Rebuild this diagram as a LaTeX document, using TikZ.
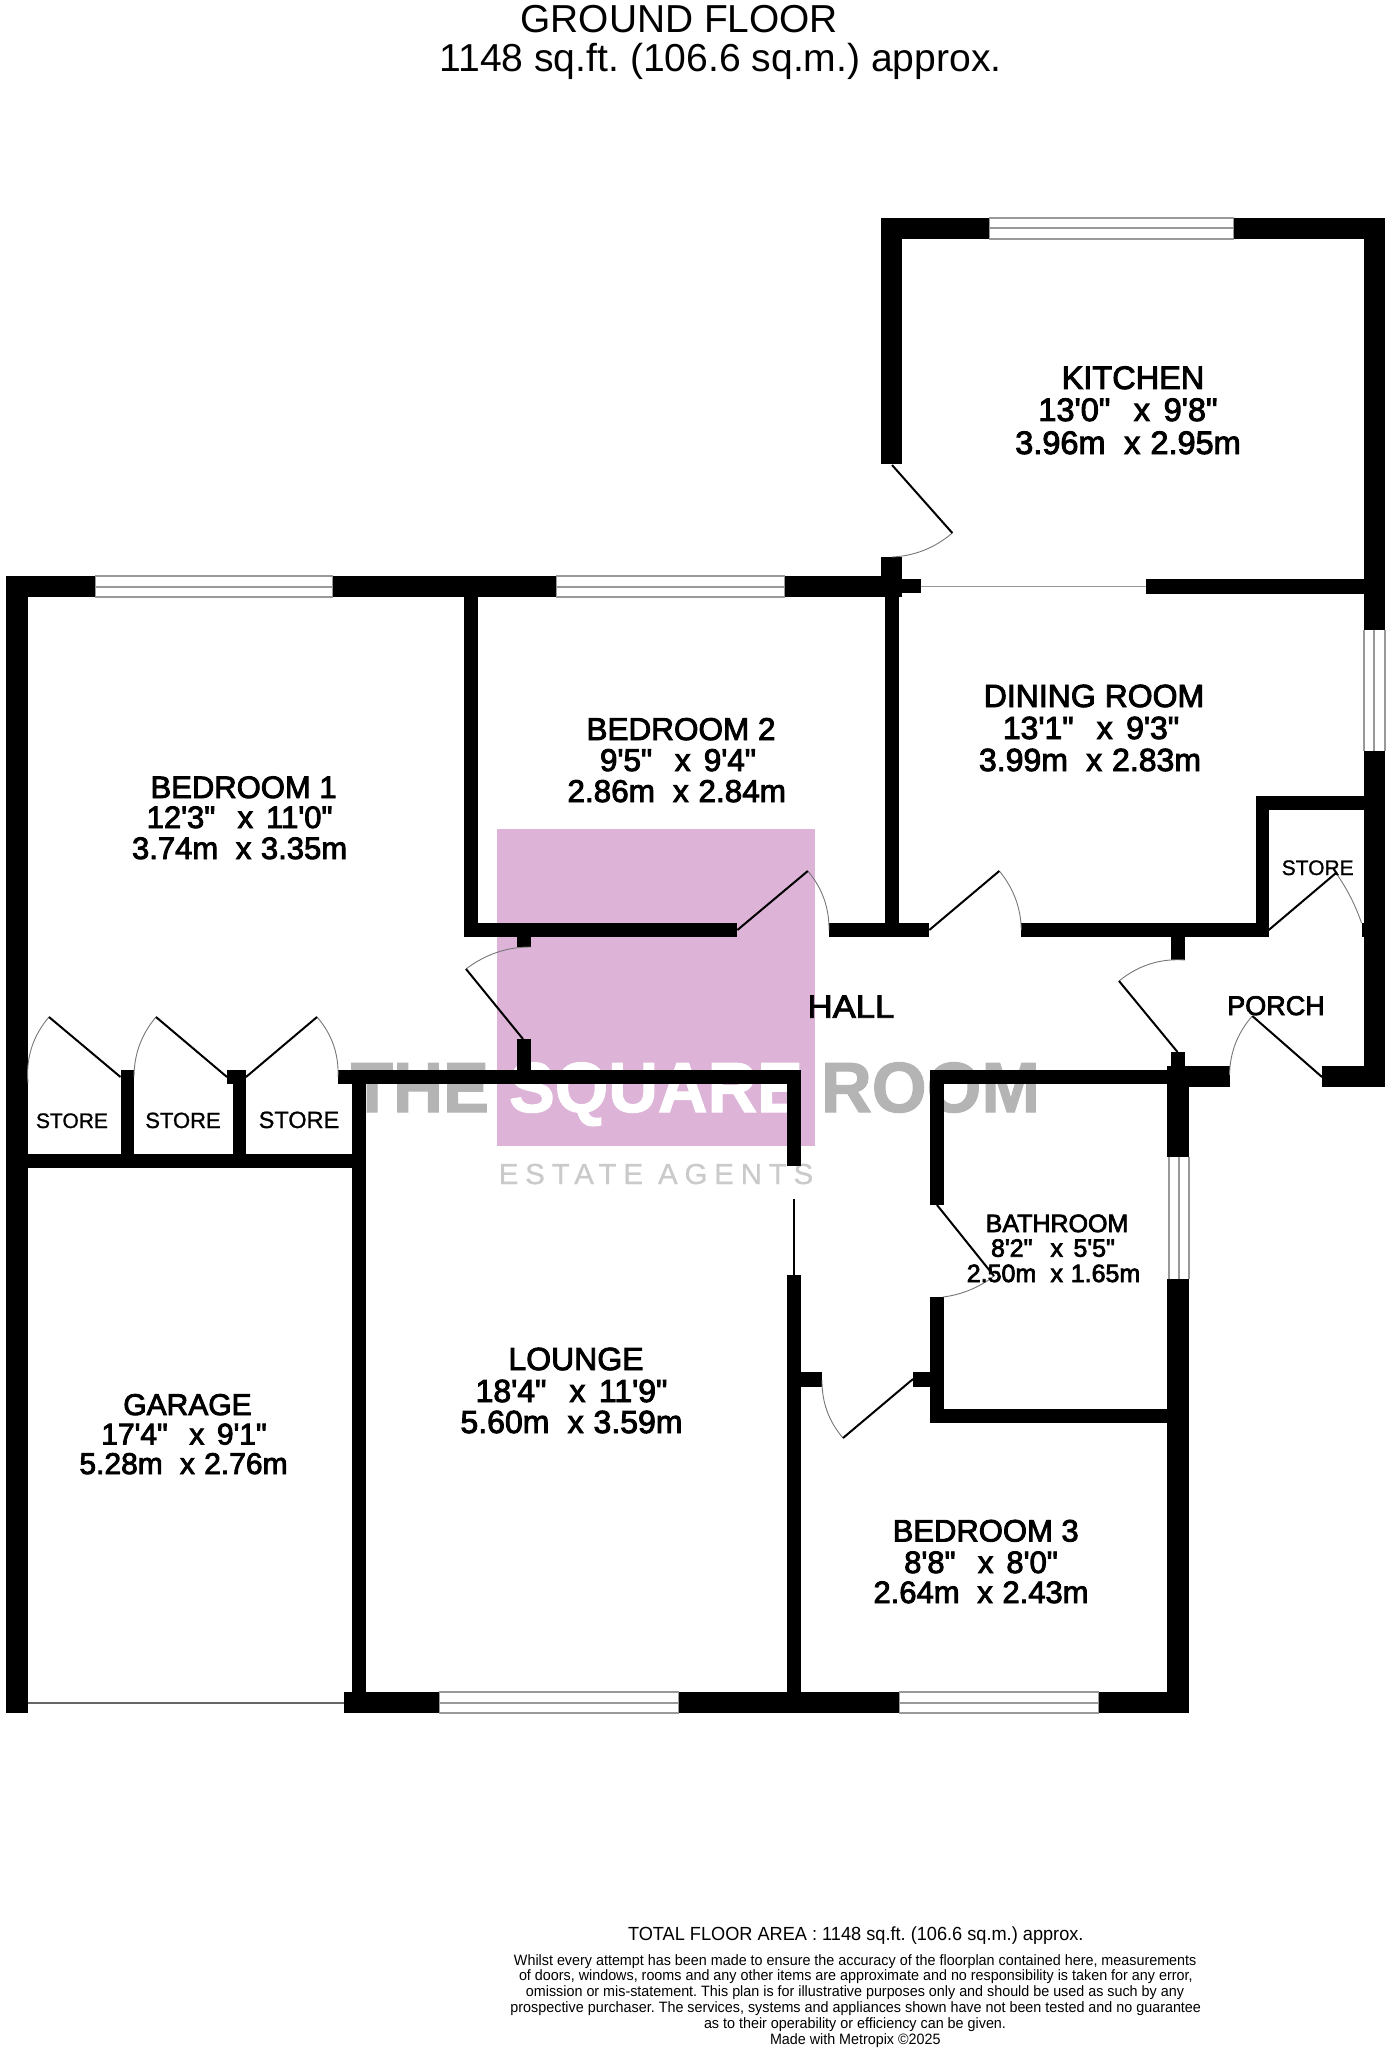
\documentclass[tikz,border=0pt]{standalone}
\usepackage{fontspec}
\usepackage{graphicx}
\newfontfamily\ar{Liberation Sans}
\newfontfamily\arf[FakeBold=2.8]{Liberation Sans}
\newfontfamily\arm[FakeBold=1]{Liberation Sans}
\newfontfamily\arbd[FakeBold=1.6]{Liberation Sans Bold}
\newfontfamily\arls[LetterSpace=23,FakeBold=0.6]{Liberation Sans}
\newdimen\pxu \pxu=0.5pt
\newcommand\xx{\hspace{0.72em}x\hspace{0.42em}}
\newcommand\xm{\hspace{0.57em}x\hspace{0.31em}}
\definecolor{pinkbox}{HTML}{DDB3D8}
\definecolor{logogray}{HTML}{B4B4B4}
\definecolor{logolight}{HTML}{CACACA}
\definecolor{glass}{HTML}{999999}
\definecolor{swing}{HTML}{777777}
\tikzset{
  tx/.style={inner sep=0pt,outer sep=0pt,anchor=base,text=black},
  leaf/.style={black,line width=1pt},
  swingarc/.style={swing,line width=0.45pt},
  glassline/.style={glass,line width=1pt},
}
% text helpers: name, centre x, baseline y, font px, text
\newcommand\lab[5]{\pgfmathsetmacro\fsz{#4/2}\node[tx] (#1) at (#2,#3) {\arf\fontsize{\fsz}{\fsz}\selectfont #5};}
\newcommand\thinlab[5]{\pgfmathsetmacro\fsz{#4/2}\node[tx] (#1) at (#2,#3) {\arm\fontsize{\fsz}{\fsz}\selectfont #5};}
% name, x1, x2, baseline, font px, text : text fitted to x1..x2
\newcommand\fitlab[6]{\pgfmathsetmacro\fsz{#5/2}\pgfmathsetmacro\cenx{(#2+#3)/2}\pgfmathsetmacro\fitw{#3-#2}\node[tx] (#1) at (\cenx,#4) {\resizebox{\fitw\pxu}{\height}{\ar\fontsize{\fsz}{\fsz}\selectfont #6}};}
\newcommand\fitb[6]{\pgfmathsetmacro\fsz{#5/2}\pgfmathsetmacro\cenx{(#2+#3)/2}\pgfmathsetmacro\fitw{#3-#2}\node[tx,text=#6] (#1) at (\cenx,#4) {\resizebox{\fitw\pxu}{\height}{\arbd\fontsize{\fsz}{\fsz}\selectfont\MakeUppercase{#1}}};}
\newcommand\wall[4]{\fill[black] (#1,#2) rectangle (#3,#4);}
% horizontal window x1 x2 y1 y2
\newcommand\hwin[4]{\pgfmathsetmacro\ymid{(#3+#4)/2}
  \draw[glassline] (#1,#3)--(#2,#3) (#1,\ymid)--(#2,\ymid) (#1,#4)--(#2,#4) (#1,#3)--(#1,#4) (#2,#3)--(#2,#4);}
\newcommand\vwin[4]{\pgfmathsetmacro\xmid{(#1+#2)/2}
  \draw[glassline] (#1,#3)--(#1,#4) (\xmid,#3)--(\xmid,#4) (#2,#3)--(#2,#4);}
% door: hinge, tip, arc end
\newcommand\door[6]{%
  \pgfmathsetmacro\mpx{(#3+#5)/2}\pgfmathsetmacro\mpy{(#4+#6)/2}%
  \pgfmathsetmacro\rsq{(#3-#1)*(#3-#1)+(#4-#2)*(#4-#2)}%
  \pgfmathsetmacro\dsq{(\mpx-#1)*(\mpx-#1)+(\mpy-#2)*(\mpy-#2)}%
  \pgfmathsetmacro\rat{\rsq/\dsq}%
  \pgfmathsetmacro\tanx{#1+(\mpx-#1)*\rat}\pgfmathsetmacro\tany{#2+(\mpy-#2)*\rat}%
  \pgfmathsetmacro\cax{#3+(\tanx-#3)*2/3}\pgfmathsetmacro\cay{#4+(\tany-#4)*2/3}%
  \pgfmathsetmacro\cbx{#5+(\tanx-#5)*2/3}\pgfmathsetmacro\cby{#6+(\tany-#6)*2/3}%
  \draw[swingarc] (#3,#4) .. controls (\cax,\cay) and (\cbx,\cby) .. (#5,#6);
  \draw[leaf] (#1,#2) -- (#3,#4);}
\begin{document}
\frenchspacing
\begin{tikzpicture}[x=0.5pt,y=-0.5pt]
\useasboundingbox (0,0) rectangle (1390,2048);
\fill[white] (0,0) rectangle (1390,2048);
% logo
\fill[pinkbox] (496.5,829) rectangle (814.5,1146);
\fitb{The}{351}{489}{1112}{71}{logogray}
\fitb{Square}{509}{803}{1112}{71}{white}
\fitb{Room}{821}{1040}{1112}{71}{logogray}
\pgfmathsetmacro\fsz{29/2}
\node[tx,text=logolight] (estate) at (656,1184) {\resizebox{314.5\pxu}{\height}{\arls\fontsize{\fsz}{\fsz}\selectfont ESTATE AGENTS}};
% windows
\hwin{989}{1234}{218}{239}
\hwin{95}{333}{576}{597}
\hwin{556}{785}{576}{597}
\hwin{438.6}{678.5}{1692}{1713}
\hwin{898.5}{1099.4}{1692}{1713}
\vwin{1363.5}{1384.5}{630}{751}
\vwin{1168.5}{1188.6}{1157}{1279}
% thin openings
\draw[glass,line width=0.8pt] (921,586.5) -- (1146,586.5);
\draw[black!60,line width=1.4pt] (28,1703) -- (344,1703);
\draw[black,line width=0.8pt] (794,1199) -- (794,1275);
% walls: kitchen
\wall{881}{218}{989}{239}
\wall{1234}{218}{1384.8}{239}
\wall{881}{218}{902.3}{464}
\wall{881}{557}{902.3}{597}
\wall{902}{579}{920.6}{593}
\wall{1146}{579}{1365}{594}
\wall{1363.7}{218}{1384.8}{630}
\wall{1363.7}{751}{1384.8}{1087}
% walls: top of bedrooms
\wall{6.3}{576}{95}{597}
\wall{333}{576}{556}{597}
\wall{785}{576}{881}{597}
\wall{6.3}{576}{28}{1713}
\wall{464}{597}{478}{937}
\wall{885}{597}{899}{937}
% hall top wall
\wall{464}{923}{737.4}{937}
\wall{829}{923}{929.3}{937}
\wall{1021.3}{923}{1268.7}{937}
\wall{1361.5}{923}{1364}{937}
\wall{1255.5}{796}{1268.7}{937}
\wall{1255.5}{796}{1364}{810}
% bedroom 1 door stubs
\wall{517}{937}{531}{947}
\wall{517}{1039}{531}{1071}
% lounge top
\wall{338}{1070}{801}{1084}
\wall{352}{1070}{365.5}{1713}
\wall{786.8}{1070}{801}{1166}
\wall{786.8}{1275}{801}{1713}
% stores
\wall{28}{1154}{352}{1168}
\wall{120.5}{1070}{134}{1168}
\wall{233}{1084}{246}{1168}
\wall{227}{1070}{246}{1084}
% porch / bathroom
\wall{1171}{937}{1185}{960}
\wall{1171}{1052}{1185}{1070}
\wall{929.8}{1070}{1170}{1084}
\wall{1167.4}{1066}{1229.5}{1087}
\wall{1322}{1066}{1384.8}{1087}
\wall{1167.4}{1084}{1188.6}{1157}
\wall{1167.4}{1279}{1189}{1713}
\wall{929.8}{1070}{943.5}{1205}
\wall{929.8}{1297}{944}{1423}
\wall{929.8}{1409}{1170}{1423}
\wall{913}{1372}{930}{1387}
\wall{801}{1372}{822}{1387}
% bottom wall
\wall{344}{1692}{438.6}{1713}
\wall{678.5}{1692}{898.5}{1713}
\wall{1099.4}{1692}{1189}{1713}
% doors
\door{892}{465}{952.3}{533}{892}{557}
\door{523}{1039}{466}{969}{531}{947}
\door{120.5}{1077}{49}{1017}{28}{1083}
\door{227}{1077}{156}{1017}{134}{1077}
\door{246}{1077}{317}{1017}{338}{1077}
\door{737.4}{930}{807.8}{871}{829}{930}
\door{929.3}{930}{999.3}{871}{1021.3}{930}
\door{1268.7}{930}{1336}{873}{1361.5}{923}
\door{1177.5}{1052}{1119}{981}{1185}{960}
\door{1322}{1077}{1252.3}{1016}{1229.5}{1075}
\door{937}{1205}{994}{1276}{943}{1297}
\door{913}{1379}{843}{1438}{822}{1380}
% title
\fitlab{title}{520.5}{838}{33}{39}{GROUND FLOOR}
\fitlab{area}{439.5}{1001.6}{72}{39}{1148 sq.ft. (106.6 sq.m.) approx.}
% rooms
\lab{kit1}{1133}{389}{32.5}{KITCHEN}
\lab{kit2}{1128}{421}{32.5}{13'0"\xx 9'8"}
\lab{kit3}{1128}{454}{32.5}{3.96m\xm 2.95m}
\lab{bedone1}{243.6}{798}{31}{BEDROOM 1}
\lab{bedone2}{239.6}{828}{31}{12'3"\xx 11'0"}
\lab{bedone3}{239.6}{859}{31}{3.74m\xm 3.35m}
\lab{bedtwo1}{681}{740}{31.5}{BEDROOM 2}
\lab{bedtwo2}{678}{771}{31.5}{9'5"\xx 9'4"}
\lab{bedtwo3}{676.7}{802}{31.5}{2.86m\xm 2.84m}
\lab{din1}{1094}{707}{32}{DINING ROOM}
\lab{din2}{1091}{739}{32}{13'1"\xx 9'3"}
\lab{din3}{1090}{771}{32}{3.99m\xm 2.83m}
\pgfmathsetmacro\fsz{16}
\node[tx] (hall) at (851,1017.7) {\resizebox{86.7\pxu}{\height}{\arf\fontsize{\fsz}{\fsz}\selectfont HALL}};
\lab{porch}{1276}{1015}{27}{PORCH}
\thinlab{storer}{1317.7}{875}{21}{STORE}
\thinlab{storea}{72}{1128}{21}{STORE}
\thinlab{storeb}{183}{1128}{22}{STORE}
\thinlab{storec}{299}{1128}{23.5}{STORE}
\lab{lou1}{576}{1370}{32}{LOUNGE}
\lab{lou2}{571.5}{1402}{32}{18'4"\xx 11'9"}
\lab{lou3}{571.5}{1433}{32}{5.60m\xm 3.59m}
\lab{gar1}{187.5}{1415}{30}{GARAGE}
\lab{gar2}{184}{1444.5}{30}{17'4"\xx 9'1"}
\lab{gar3}{183.5}{1474}{30}{5.28m\xm 2.76m}
\lab{bedthree1}{985.7}{1541.5}{31}{BEDROOM 3}
\lab{bedthree2}{981}{1573}{31}{8'8"\xx 8'0"}
\lab{bedthree3}{981}{1603}{31}{2.64m\xm 2.43m}
\lab{bath1}{1057}{1232}{25}{BATHROOM}
\lab{bath2}{1053}{1256.7}{25}{8'2"\xx 5'5"}
\lab{bath3}{1053.5}{1282}{25}{2.50m\xm 1.65m}
% footer
\fitlab{total}{628}{1083.5}{1940.7}{19}{TOTAL FLOOR AREA : 1148 sq.ft. (106.6 sq.m.) approx.}
\fitlab{fa}{514}{1196.4}{1965}{15}{Whilst every attempt has been made to ensure the accuracy of the floorplan contained here, measurements}
\fitlab{fb}{519}{1192.6}{1980.7}{15}{of doors, windows, rooms and any other items are approximate and no responsibility is taken for any error,}
\fitlab{fc}{526}{1184}{1996.7}{15}{omission or mis-statement. This plan is for illustrative purposes only and should be used as such by any}
\fitlab{fd}{510.5}{1201}{2012.7}{15}{prospective purchaser. The services, systems and appliances shown have not been tested and no guarantee}
\fitlab{fe}{704}{1006}{2028.7}{15}{as to their operability or efficiency can be given.}
\fitlab{ff}{770}{940.5}{2044}{15}{Made with Metropix ©2025}
\end{tikzpicture}
\end{document}
